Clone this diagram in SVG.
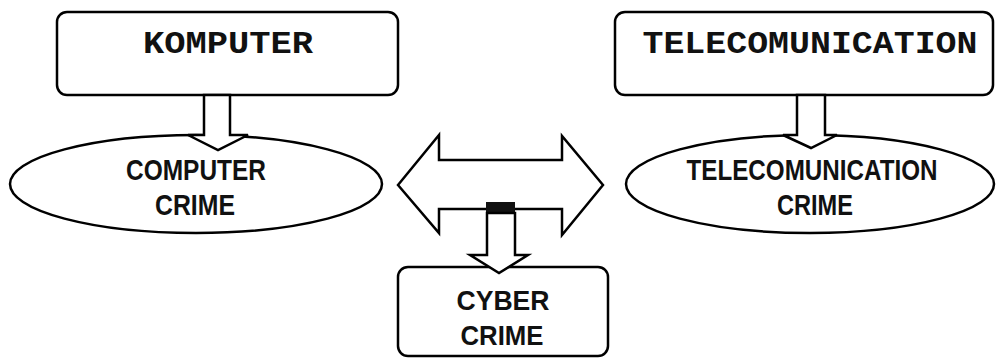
<svg xmlns="http://www.w3.org/2000/svg" width="996" height="358" viewBox="0 0 996 358">
<style>
.sh{fill:none;stroke:#000;stroke-width:2.5;stroke-linejoin:miter}
.ar{fill:#fff;stroke:#000;stroke-width:2.5;stroke-linejoin:miter}
.mono{font-family:"Liberation Mono","Courier New",monospace;font-weight:bold;font-size:31px;fill:#111}
.sans{font-family:"Liberation Sans",Arial,sans-serif;font-weight:bold;font-size:30px;fill:#111}
</style>
<rect width="996" height="358" fill="#fff"/>
<g id="komputer">
<rect class="sh" x="57" y="12" width="341" height="83" rx="10"/>
<text class="mono" x="228" y="53" text-anchor="middle" textLength="170" lengthAdjust="spacingAndGlyphs">KOMPUTER</text>
</g>
<g id="telecom">
<rect class="sh" x="615" y="12" width="378" height="83" rx="10"/>
<text class="mono" x="810" y="53" text-anchor="middle" textLength="335" lengthAdjust="spacingAndGlyphs">TELECOMUNICATION</text>
</g>
<g id="computer-crime">
<ellipse class="sh" cx="196" cy="184" rx="186" ry="49"/>
<text class="sans" x="196" y="180" text-anchor="middle" textLength="140" lengthAdjust="spacingAndGlyphs">COMPUTER</text>
<text class="sans" x="195" y="215" text-anchor="middle" textLength="80" lengthAdjust="spacingAndGlyphs">CRIME</text>
</g>
<g id="telecom-crime">
<ellipse class="sh" cx="810" cy="184" rx="184" ry="49"/>
<text class="sans" x="812" y="180" text-anchor="middle" textLength="251" lengthAdjust="spacingAndGlyphs">TELECOMUNICATION</text>
<text class="sans" x="815" y="215" text-anchor="middle" textLength="76" lengthAdjust="spacingAndGlyphs">CRIME</text>
</g>
<g id="cyber-crime">
<rect class="sh" x="398" y="267" width="210" height="89" rx="10"/>
<text class="sans" x="503" y="310" text-anchor="middle" textLength="93" lengthAdjust="spacingAndGlyphs" style="font-size:28px">CYBER</text>
<text class="sans" x="502" y="345" text-anchor="middle" textLength="83" lengthAdjust="spacingAndGlyphs" style="font-size:28px">CRIME</text>
</g>
<g id="connectors">
<polygon class="ar" points="204,95 230,95 230,135 248,135 218,150 188,135 204,135"/>
<polygon class="ar" points="797,95 825,95 825,135 837,135 811,148 783,135 797,135"/>
<polygon class="ar" points="398,185 439,135 439,160 562,160 562,136 603,185 562,235 562,209 439,209 439,233"/>
<rect x="486" y="202" width="29" height="11" fill="#111"/>
<polygon class="ar" points="487,213 515,213 515,255 528,255 499,273 470,255 487,255"/>
</g>
</svg>
